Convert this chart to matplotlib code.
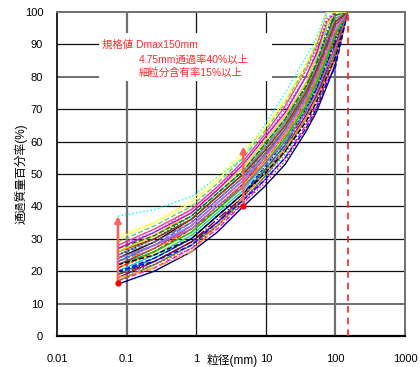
import matplotlib.pyplot as plt
from matplotlib.patches import Rectangle

plt.rcParams['font.family'] = ['Liberation Sans', 'Noto Sans CJK JP', 'DejaVu Sans']

# sieve sizes (mm)
sieve = [0.075, 0.25, 0.85, 2, 4.75, 9.5, 19, 37.5, 53, 75, 100, 150]

# passing percentage for each sample
passing = [
    [16, 20, 26, 32, 40, 46, 53, 63, 69, 77, 84, 100],
    [17, 21, 27, 33, 41, 48, 55, 65, 71, 79, 86, 100],
    [17, 22, 28, 34, 42, 49, 57, 67, 73, 81, 88, 100],
    [18, 22, 28, 35, 42, 49, 56, 66, 72, 80, 87, 100],
    [18, 23, 29, 35, 43, 50, 58, 68, 74, 82, 90, 100],
    [19, 23, 29, 36, 43, 51, 59, 69, 76, 84, 91, 100],
    [19, 24, 30, 37, 44, 51, 59, 70, 77, 85, 93, 100],
    [20, 24, 30, 37, 44, 52, 60, 70, 76, 84, 92, 100],
    [20, 25, 31, 38, 45, 53, 61, 71, 78, 86, 94, 100],
    [21, 25, 31, 38, 45, 52, 60, 70, 77, 85, 92, 100],
    [21, 26, 32, 39, 46, 54, 62, 72, 79, 87, 95, 100],
    [21, 26, 33, 39, 47, 55, 63, 73, 80, 88, 96, 100],
    [22, 26, 32, 39, 46, 53, 61, 71, 78, 86, 93, 100],
    [22, 27, 33, 40, 47, 55, 63, 73, 80, 89, 96, 100],
    [22, 27, 34, 41, 48, 55, 64, 74, 81, 90, 97, 100],
    [23, 27, 33, 40, 47, 54, 62, 72, 79, 87, 94, 100],
    [23, 28, 34, 41, 48, 56, 64, 74, 81, 90, 98, 100],
    [23, 28, 35, 42, 49, 57, 65, 75, 82, 91, 100, 100],
    [24, 28, 34, 41, 48, 55, 63, 73, 80, 88, 95, 100],
    [24, 29, 35, 42, 49, 57, 65, 75, 82, 91, 98, 100],
    [24, 29, 36, 43, 50, 58, 66, 76, 83, 92, 100, 100],
    [25, 29, 35, 42, 49, 56, 64, 74, 81, 89, 96, 100],
    [25, 30, 36, 43, 50, 58, 66, 76, 83, 92, 99, 100],
    [25, 30, 37, 44, 51, 59, 67, 77, 84, 94, 100, 100],
    [26, 30, 36, 43, 50, 57, 65, 75, 82, 90, 97, 100],
    [26, 31, 37, 44, 51, 59, 67, 78, 85, 95, 100, 100],
    [26, 31, 38, 45, 52, 60, 68, 78, 86, 96, 100, 100],
    [27, 31, 37, 44, 51, 59, 67, 77, 84, 93, 99, 100],
    [27, 32, 38, 45, 53, 61, 69, 80, 87, 97, 100, 100],
    [28, 32, 39, 46, 53, 61, 70, 80, 88, 98, 100, 100],
    [28, 33, 39, 46, 54, 62, 71, 82, 89, 100, 100, 100],
    [29, 34, 40, 47, 55, 63, 72, 83, 90, 100, 100, 100],
    [30, 35, 41, 48, 56, 64, 73, 84, 91, 100, 100, 100],
    [37, 39, 43, 49, 55, 65, 75, 86, 92, 100, 100, 100],
    [31, 35, 42, 49, 57, 64, 72, 82, 89, 97, 100, 100],
    [18, 21, 26, 34, 43, 50, 58, 67, 73, 80, 85, 100],
    [20, 23, 28, 35, 42, 48, 55, 64, 70, 78, 83, 100],
    [22, 25, 30, 37, 44, 50, 57, 66, 72, 80, 86, 100],
    [24, 28, 33, 40, 46, 53, 60, 69, 75, 83, 89, 100],
    [19, 22, 27, 34, 41, 47, 54, 64, 70, 79, 88, 100],
]

# spec markers
arrow_fine = (0.075, 16.5, 37)
arrow_475 = (4.75, 40, 58.5)
dmax = 150

colors = ['#000080', '#ff00ff', '#808000', '#00a0a0', '#800080', '#800000', '#008080',
          '#0000ff', '#00ccff', '#99cc00', '#ff9900', '#ff0000', '#00cc00', '#333399',
          '#993366', '#ff6600', '#339966', '#3366ff', '#cc66ff', '#ff66cc', '#000000',
          '#666699', '#969696', '#003366', '#993300', '#33cccc', '#ffcc00', '#008000',
          '#cc00cc', '#6666ff', '#ff3399', '#66cc66', '#ffff66', '#00ffff', '#ffff00',
          '#ff9933', '#0000ff', '#000000', '#9966cc', '#cc3300']
styles = ['-', '--', '-', ':', '-', '-.', '-', '--', '-', ':']

fig = plt.figure(figsize=(4.2, 3.67), dpi=100)
ax = fig.add_axes([0.1357, 0.0845, 0.8286, 0.8828])
ax.set_xscale('log')
ax.set_xlim(0.01, 1000)
ax.set_ylim(0, 100)

# grid drawn by hand (Excel look)
for v in range(10, 100, 10):
    c, w = ('#707070', 1.4) if v in (10, 80) else ('#111111', 0.9)
    ax.axhline(v, color=c, lw=w, zorder=1)
for v in [0.1, 1, 10, 100]:
    c, w = ('#707070', 1.6) if v in (0.1, 100) else ('#111111', 0.9)
    ax.axvline(v, color=c, lw=w, zorder=1)

for i, row in enumerate(passing):
    ls = styles[i % len(styles)]
    if i in (33, 34):
        ls = ':'
    if i in (36, 37):
        ls = '--'
    ax.plot(sieve, row, color=colors[i], ls=ls, lw=1.0, zorder=3)

# white box behind the spec text
ax.add_patch(Rectangle((0.121, 0.787), 0.497, 0.148, transform=ax.transAxes,
                       facecolor='white', edgecolor='none', zorder=2))
tc = '#ff2a2a'
ax.text(0.0443, 89.8, '規格値 Dmax150mm', color=tc, fontsize=7.5, va='center', zorder=4)
ax.text(0.151, 85.2, '4.75mm通過率40%以上', color=tc, fontsize=7.5, va='center', zorder=4)
ax.text(0.151, 81.2, '細粒分含有率15%以上', color=tc, fontsize=7.5, va='center', zorder=4)

ax.axvline(dmax, color='#ff2020', ls=(0, (4, 3)), lw=1.2, zorder=5)

for x, y0, y1 in [arrow_fine, arrow_475]:
    ax.annotate('', xy=(x, y1), xytext=(x, y0),
                arrowprops=dict(arrowstyle='-|>', color='#ff6060', lw=1.8,
                                mutation_scale=9, shrinkA=0, shrinkB=0), zorder=6)
    ax.plot([x], [y0], 'o', color='#ff0000', ms=3.5, zorder=7)

for s in ['left', 'bottom']:
    ax.spines[s].set_color('black')
ax.spines['bottom'].set_linewidth(1.6)
ax.spines['left'].set_linewidth(1.2)
for s in ['top', 'right']:
    ax.spines[s].set_color('#707070')
    ax.spines[s].set_linewidth(1.4)

ax.set_xticks([0.01, 0.1, 1, 10, 100, 1000])
ax.set_xticklabels(['0.01', '0.1', '1', '10', '100', '1000'])
ax.set_yticks(range(0, 101, 10))
ax.minorticks_off()
ax.tick_params(length=0, labelsize=8, pad=10)
ax.tick_params(axis='x', pad=13)

fig.text(232 / 420, 1 - 360 / 367, '粒径(mm)', fontsize=8.5, ha='center', va='center')
fig.text(21 / 420, 1 - 174 / 367, '通過質量百分率(%)', fontsize=8.5, rotation=90,
         ha='center', va='center')

plt.savefig('out.png', dpi=100)
